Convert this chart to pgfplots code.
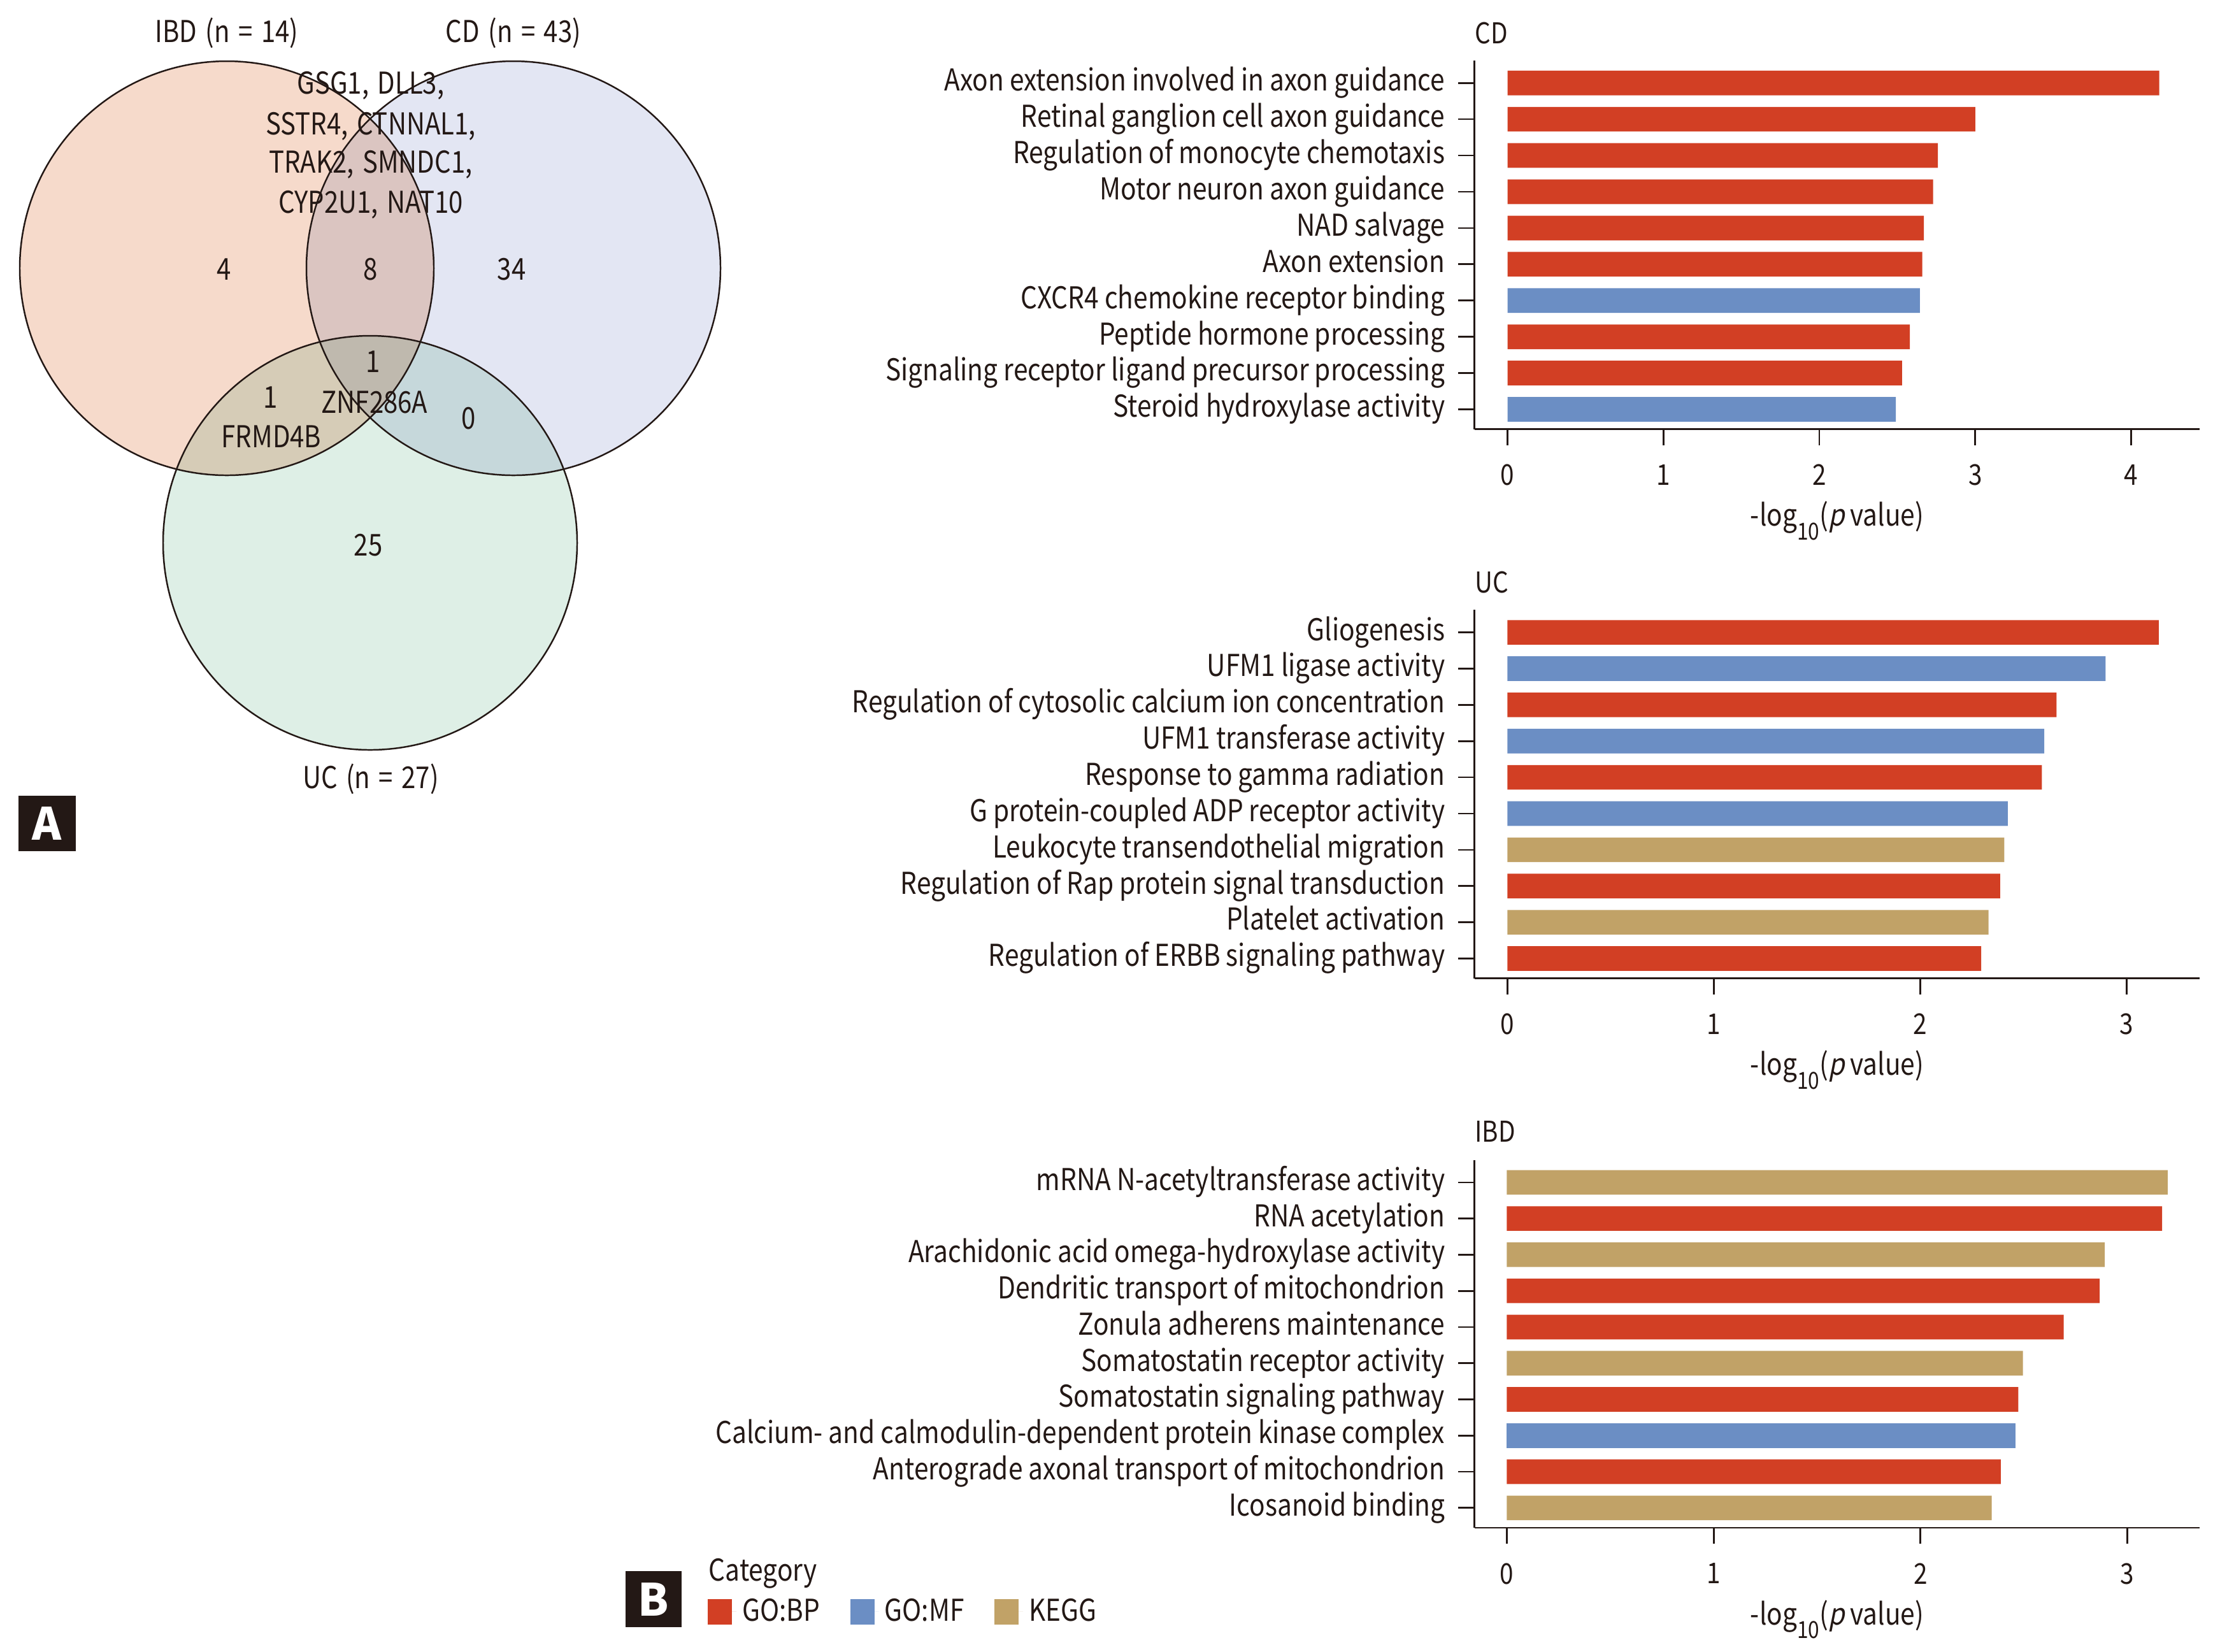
\documentclass[border=0pt]{standalone}
\usepackage{pgfplots}
\pgfplotsset{compat=1.18}
\usepackage{fontspec}
\setmainfont{Noto Sans CJK KR}[FakeStretch=0.86]
\newfontfamily\vennfont{Noto Sans CJK KR}[FakeStretch=0.85, WordSpace=1.5]
\newfontfamily\slfont{Noto Sans CJK KR}[FakeStretch=0.86, FakeSlant=0.2]
\newfontfamily\panelfont{Noto Sans CJK KR}
\definecolor{dark}{HTML}{231815}
\definecolor{bp}{HTML}{D23F24}
\definecolor{mf}{HTML}{6B8EC4}
\definecolor{kegg}{HTML}{C1A267}
\definecolor{vibd}{RGB}{246,218,203}
\definecolor{vcd}{RGB}{227,230,243}
\definecolor{vuc}{RGB}{222,239,230}
\definecolor{vibdcd}{RGB}{219,197,193}
\definecolor{vibduc}{RGB}{214,204,183}
\definecolor{vcduc}{RGB}{198,216,219}
\definecolor{vall}{RGB}{191,185,174}
\newcommand{\lblfont}{\fontsize{10.5}{12.6}\selectfont}
\newcommand{\tickfont}{\fontsize{10}{12}\selectfont}
\newcommand{\ttlfont}{\fontsize{10}{12}\selectfont}
\tikzset{vtext/.style={font=\vennfont\fontsize{10.5}{12.6}\selectfont, text=dark, inner sep=0pt}}
\pgfplotsset{
  barpanel/.style={
    scale only axis, width=253.1pt,
    xbar, bar width=0.68, bar shift=0pt,
    axis x line*=bottom, axis y line*=left,
    axis line style={dark, line width=0.6pt, -},
    tick align=outside, major tick length=5.6pt,
    tick style={dark, line width=0.6pt},
    ymin=0.45, ymax=10.62, ytick={1,...,10},
    yticklabel style={font=\lblfont, text=dark, anchor=east, inner sep=0pt,
      text height=7.7pt, text depth=2.2pt, xshift=-4.5pt},
    xticklabel style={font=\tickfont, text=dark, anchor=north, inner sep=0pt, yshift=-6.5pt},
    /pgf/number format/assume math mode=true,
    xlabel={-log\raisebox{-4.8pt}{\fontsize{8.2}{9}\selectfont 10}({\slfont p} value)},
    xlabel style={font=\fontsize{10.5}{12.6}\selectfont, text=dark, inner sep=0pt,
      at={(axis description cs:0.5,0)}, anchor=base, yshift=-33.8pt},
    every axis plot/.append style={draw=none},
    clip=false,
  },
}
\begin{document}
\begin{tikzpicture}
\useasboundingbox (0,0) rectangle (774.44pt,-576pt);
% ---------------- Venn diagram ----------------
\begin{axis}[at={(0pt,0pt)}, anchor=north west, scale only axis,
  width=266.67pt, height=311.11pt, xmin=0, xmax=1200, ymin=0, ymax=1400,
  y dir=reverse, hide axis, clip=false]
\fill[vibd] (axis cs:356,421) circle[radius=325];
\fill[vcd] (axis cs:806,421) circle[radius=325];
\fill[vuc] (axis cs:581,852) circle[radius=325];
\begin{scope}\clip (axis cs:356,421) circle[radius=325];
  \fill[vibdcd] (axis cs:806,421) circle[radius=325];\end{scope}
\begin{scope}\clip (axis cs:356,421) circle[radius=325];
  \fill[vibduc] (axis cs:581,852) circle[radius=325];\end{scope}
\begin{scope}\clip (axis cs:806,421) circle[radius=325];
  \fill[vcduc] (axis cs:581,852) circle[radius=325];\end{scope}
\begin{scope}\clip (axis cs:356,421) circle[radius=325];
  \clip (axis cs:806,421) circle[radius=325];
  \fill[vall] (axis cs:581,852) circle[radius=325];\end{scope}
\draw[dark, line width=0.55pt] (axis cs:356,421) circle[radius=325];
\draw[dark, line width=0.55pt] (axis cs:806,421) circle[radius=325];
\draw[dark, line width=0.55pt] (axis cs:581,852) circle[radius=325];
\node[vtext] at (axis cs:356,52) {IBD (n = 14)};
\node[vtext] at (axis cs:806,52) {CD (n = 43)};
\node[vtext] at (axis cs:582,134) {GSG1, DLL3,};
\node[vtext] at (axis cs:582,198) {SSTR4, CTNNAL1,};
\node[vtext] at (axis cs:582,258) {TRAK2, SMNDC1,};
\node[vtext] at (axis cs:582,321) {CYP2U1, NAT10};
\node[vtext] at (axis cs:352,423) {4};
\node[vtext] at (axis cs:582,423) {8};
\node[vtext] at (axis cs:803,423) {34};
\node[vtext] at (axis cs:586,568) {1};
\node[vtext] at (axis cs:425,624) {1};
\node[vtext] at (axis cs:588,631) {ZNF286A};
\node[vtext] at (axis cs:736,657) {0};
\node[vtext] at (axis cs:426,685) {FRMD4B};
\node[vtext] at (axis cs:578,856) {25};
\node[vtext] at (axis cs:582,1223) {UC (n = 27)};
\fill[dark] (axis cs:29,1249) rectangle (axis cs:119,1336);
\node[font=\panelfont\fontsize{15.5}{18}\selectfont\bfseries, text=white, inner sep=0pt] at (axis cs:74,1292.5) {A};
\end{axis}
% ---------------- CD ----------------
\begin{axis}[barpanel, at={(514.33pt,-149.73pt)}, anchor=south west, height=128.64pt,
  xmin=-0.213, xmax=4.441, xtick={0,1,2,3,4},
  yticklabels={Steroid hydroxylase activity, Signaling receptor ligand precursor processing,
    Peptide hormone processing, CXCR4 chemokine receptor binding, Axon extension,
    NAD salvage, Motor neuron axon guidance, Regulation of monocyte chemotaxis,
    Retinal ganglion cell axon guidance, Axon extension involved in axon guidance}]
\addplot[fill=bp] coordinates {(4.18,10) (3.00,9) (2.76,8) (2.73,7) (2.67,6) (2.66,5) (2.58,3) (2.53,2)};
\addplot[fill=mf] coordinates {(2.645,4) (2.49,1)};
\node[font=\ttlfont, text=dark, anchor=west, inner sep=0pt, yshift=9.6pt] at (rel axis cs:0,1) {CD};
\end{axis}
% ---------------- UC ----------------
\begin{axis}[barpanel, at={(514.33pt,-341.27pt)}, anchor=south west, height=128.53pt,
  xmin=-0.16, xmax=3.355, xtick={0,1,2,3},
  yticklabels={Regulation of ERBB signaling pathway, Platelet activation,
    Regulation of Rap protein signal transduction, Leukocyte transendothelial migration,
    G protein-coupled ADP receptor activity, Response to gamma radiation,
    UFM1 transferase activity, Regulation of cytosolic calcium ion concentration,
    UFM1 ligase activity, Gliogenesis}]
\addplot[fill=bp] coordinates {(3.156,10) (2.660,8) (2.589,6) (2.387,3) (2.295,1)};
\addplot[fill=mf] coordinates {(2.898,9) (2.601,7) (2.424,5)};
\addplot[fill=kegg] coordinates {(2.407,4) (2.331,2)};
\node[font=\ttlfont, text=dark, anchor=west, inner sep=0pt, yshift=9.6pt] at (rel axis cs:0,1) {UC};
\end{axis}
% ---------------- IBD ----------------
\begin{axis}[barpanel, at={(514.33pt,-532.89pt)}, anchor=south west, height=128.31pt,
  xmin=-0.157, xmax=3.351, xtick={0,1,2,3},
  yticklabels={Icosanoid binding, Anterograde axonal transport of mitochondrion,
    Calcium- and calmodulin-dependent protein kinase complex, Somatostatin signaling pathway,
    Somatostatin receptor activity, Zonula adherens maintenance,
    Dendritic transport of mitochondrion, Arachidonic acid omega-hydroxylase activity,
    RNA acetylation, mRNA N-acetyltransferase activity},
  legend image code/.code={\fill[#1] (0pt,-4.45pt) rectangle (8.5pt,4.45pt); \path (0pt,0pt) -- (10pt,0pt);},
  legend columns=3,
  legend style={at={(axis description cs:-1.0574,-0.2284)}, anchor=west, draw=none, fill=none,
    inner sep=0pt, font=\lblfont, text=dark,
    /tikz/every even column/.append style={column sep=8.6pt}},
  legend cell align=left]
\addplot[fill=bp] coordinates {(3.168,9) (2.866,7) (2.692,6) (2.473,4) (2.388,2)};
\addlegendentry{GO:BP}
\addplot[fill=mf] coordinates {(2.458,3)};
\addlegendentry{GO:MF}
\addplot[fill=kegg] coordinates {(3.195,10) (2.891,8) (2.495,5) (2.344,1)};
\addlegendentry{KEGG}
\node[font=\ttlfont, text=dark, anchor=west, inner sep=0pt, yshift=10pt] at (rel axis cs:0,1) {IBD};
\end{axis}
% ---------------- panel B label and legend title ----------------
\fill[dark] (218.2pt,-548pt) rectangle (237.8pt,-567.6pt);
\node[font=\panelfont\fontsize{15.5}{18}\selectfont\bfseries, text=white, inner sep=0pt] at (228pt,-557.8pt) {B};
\node[font=\lblfont, text=dark, anchor=west, inner sep=0pt] at (247.1pt,-548.9pt) {Category};
\end{tikzpicture}
\end{document}
